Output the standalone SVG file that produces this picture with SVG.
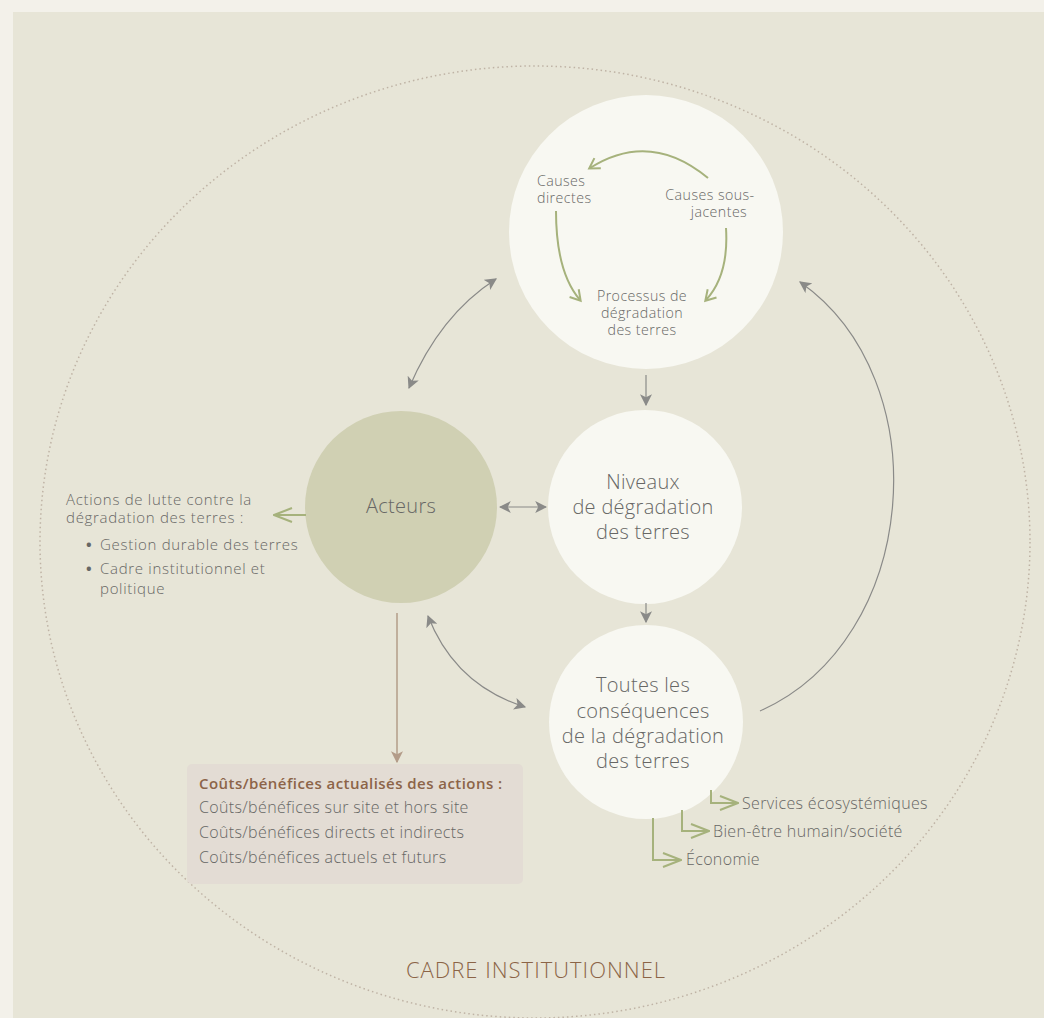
<svg xmlns="http://www.w3.org/2000/svg" width="1044" height="1018" viewBox="0 0 1044 1018">
<defs>
<style>
.t{font-family:"Open Sans",Roboto,"DejaVu Sans",sans-serif;font-weight:300;fill:#676765}
.s14{font-size:14.2px;letter-spacing:0.45px}
.s15{font-size:15px;letter-spacing:0.7px}
.s16{font-size:16px;letter-spacing:0.35px}
.s19{font-size:20px;letter-spacing:0.3px}
.c{text-anchor:middle}
.g{fill:none;stroke:#8a8a88;stroke-width:1.2}
.gr{fill:none;stroke:#a6b27c;stroke-width:2}
</style>
<marker id="ga" viewBox="0 0 10 10" refX="9" refY="5" markerWidth="12" markerHeight="12" markerUnits="userSpaceOnUse" orient="auto-start-reverse">
<path d="M0,0 L10,5 L0,10 L2.5,5 Z" fill="#8a8a88"/>
</marker>
<marker id="ba" viewBox="0 0 10 10" refX="9" refY="5" markerWidth="12" markerHeight="12" markerUnits="userSpaceOnUse" orient="auto">
<path d="M0,0 L10,5 L0,10 L2.5,5 Z" fill="#b39c89"/>
</marker>
<marker id="gc" viewBox="0 0 20 16" refX="19" refY="8" markerWidth="20" markerHeight="16" markerUnits="userSpaceOnUse" orient="auto">
<path d="M1,1 L19,8 L1,15" fill="none" stroke="#a6b27c" stroke-width="2"/>
</marker>
<marker id="gs" viewBox="0 0 14 14" refX="10" refY="7" markerWidth="14" markerHeight="14" markerUnits="userSpaceOnUse" orient="auto">
<path d="M1,1 L11,7 L1,13" fill="none" stroke="#a6b27c" stroke-width="2"/>
</marker>
</defs>
<rect width="1044" height="1018" fill="#f3f1ea"/>
<rect x="13" y="12" width="1031" height="1006" fill="#e7e5d7"/>
<ellipse cx="535" cy="542" rx="495" ry="476" fill="none" stroke="#bfb3a5" stroke-width="1.5" stroke-dasharray="1.5 3"/>

<g id="causes">
<circle cx="646" cy="232" r="137" fill="#f8f8f2"/>
<text class="t s14" x="537" y="186">Causes</text>
<text class="t s14" x="537" y="203">directes</text>
<text class="t s14 c" x="710" y="200">Causes sous-</text>
<text class="t s14 c" x="719" y="217">jacentes</text>
<text class="t s14 c" x="642" y="301">Processus de</text>
<text class="t s14 c" x="642" y="318">dégradation</text>
<text class="t s14 c" x="642" y="335">des terres</text>
</g>

<g id="acteurs">
<circle cx="401" cy="507" r="96" fill="#d0d0b3"/>
<text class="t s19 c" x="401" y="513">Acteurs</text>
</g>

<g id="niveaux">
<circle cx="645" cy="507" r="97" fill="#f8f8f2"/>
<text class="t s19 c" x="643" y="489">Niveaux</text>
<text class="t s19 c" x="643" y="514">de dégradation</text>
<text class="t s19 c" x="643" y="539">des terres</text>
</g>

<g id="consequences">
<circle cx="646" cy="722" r="97" fill="#f8f8f2"/>
<text class="t s19 c" x="643" y="692">Toutes les</text>
<text class="t s19 c" x="643" y="718">conséquences</text>
<text class="t s19 c" x="643" y="743">de la dégradation</text>
<text class="t s19 c" x="643" y="768">des terres</text>
</g>

<g id="actions">
<text class="t s15" x="66" y="505">Actions de lutte contre la</text>
<text class="t s15" x="66" y="523">dégradation des terres :</text>
<text class="t s15" x="86" y="550" style="font-weight:700">•</text>
<text class="t s15" x="100" y="550">Gestion durable des terres</text>
<text class="t s15" x="86" y="574" style="font-weight:700">•</text>
<text class="t s15" x="100" y="574">Cadre institutionnel et</text>
<text class="t s15" x="100" y="594">politique</text>
</g>

<g id="couts">
<rect x="187" y="764" width="336" height="120" rx="5" fill="#e3dcd4"/>
<text x="199" y="789" style="font-family:'Open Sans',Roboto,sans-serif;font-weight:600;font-size:15px;letter-spacing:0.45px;fill:#8c6448">Coûts/bénéfices actualisés des actions :</text>
<text class="t s16" x="199" y="813">Coûts/bénéfices sur site et hors site</text>
<text class="t s16" x="199" y="838">Coûts/bénéfices directs et indirects</text>
<text class="t s16" x="199" y="863">Coûts/bénéfices actuels et futurs</text>
</g>

<g id="impacts">
<text class="t s16" x="742" y="809">Services écosystémiques</text>
<text class="t s16" x="713" y="837">Bien-être humain/société</text>
<text class="t s16" x="686" y="865">Économie</text>
</g>

<g id="cadre">
<text x="536" y="978" text-anchor="middle" style="font-family:'Open Sans',Roboto,sans-serif;font-weight:300;font-size:22px;letter-spacing:1px;fill:#8b6446">CADRE INSTITUTIONNEL</text>
</g>

<g id="connectors">
<path class="g" d="M646,375 V405" marker-end="url(#ga)"/>
<path class="g" d="M646,603 V622" marker-end="url(#ga)"/>
<path class="g" d="M500,507 H546" marker-start="url(#ga)" marker-end="url(#ga)"/>
<path class="g" d="M409,388 Q440,315 496,279" marker-start="url(#ga)" marker-end="url(#ga)"/>
<path class="g" d="M428,616 Q455,685 525,707" marker-start="url(#ga)" marker-end="url(#ga)"/>
<path class="g" d="M760,711 C920,640 940,380 800,282" marker-end="url(#ga)"/>
<path fill="none" stroke="#b39c89" stroke-width="1.5" d="M397,613 V762" marker-end="url(#ba)"/>
<path class="gr" d="M306,515 H274" marker-end="url(#gc)"/>
<path class="gr" d="M708,178 Q650,130 590,168" marker-end="url(#gs)"/>
<path class="gr" d="M556,211 Q556,272 580,300" marker-end="url(#gs)"/>
<path class="gr" d="M726,228 Q729,275 706,300" marker-end="url(#gs)"/>
<path class="gr" d="M711,790 V803 H738" marker-end="url(#gc)"/>
<path class="gr" d="M682,810 V831 H709" marker-end="url(#gc)"/>
<path class="gr" d="M653,818 V860 H681" marker-end="url(#gc)"/>
</g>
</svg>
